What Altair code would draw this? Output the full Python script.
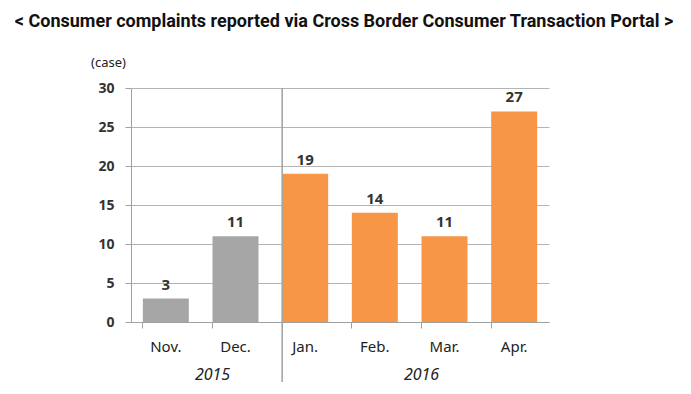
import altair as alt
import pandas as pd

months = ["Nov.", "Dec.", "Jan.", "Feb.", "Mar.", "Apr."]
counts = [3, 11, 19, 14, 11, 27]
years_of_month = ["2015", "2015", "2016", "2016", "2016", "2016"]
y_ticks = [0, 5, 10, 15, 20, 25, 30]

year_labels = ["2015", "2016"]
year_anchor = ["Dec.", "Mar."]  # band edge under which the year label is centered
separator_at = ["Jan."]

bars_df = pd.DataFrame({"month": months, "count": counts, "year": years_of_month})
years_df = pd.DataFrame({"year": year_labels, "month": year_anchor})
sep_df = pd.DataFrame({"month": separator_at})

FONT = "Noto Sans"

x_scale = alt.Scale(domain=months, paddingInner=0.34, paddingOuter=0.17)
y_scale = alt.Scale(domain=[0, 30])

x_axis = alt.Axis(
    title=None,
    labelAngle=0,
    labelFontSize=15,
    labelColor="#222222",
    labelFont=FONT,
    labelPadding=11,
    bandPosition=0,
    tickSize=6,
    tickColor="#A0A0A0",
    domainColor="#A0A0A0",
    grid=False,
)

y_axis = alt.Axis(
    values=y_ticks,
    tickCount=7,
    labelOverlap=False,
    title="(case)",
    titleAngle=0,
    titleX=-23,
    titleY=-26,
    titleAlign="center",
    titleBaseline="middle",
    titleFontSize=13,
    titleFontWeight="normal",
    titleColor="#222222",
    titleFont=FONT,
    labelFontSize=14,
    labelFontWeight="bold",
    labelColor="#333333",
    labelFont=FONT,
    labelPadding=11,
    tickSize=6,
    tickColor="#A0A0A0",
    domainColor="#A0A0A0",
    gridColor="#B4B4B4",
    gridWidth=1,
)

bars = alt.Chart(bars_df).mark_bar().encode(
    x=alt.X("month:N", scale=x_scale, sort=months, axis=x_axis),
    y=alt.Y("count:Q", scale=y_scale, axis=y_axis),
    color=alt.Color(
        "year:N",
        scale=alt.Scale(domain=["2015", "2016"], range=["#A6A6A6", "#F79646"]),
        legend=None,
    ),
)

values = alt.Chart(bars_df).mark_text(
    baseline="bottom", dy=-6, fontSize=15, fontWeight="bold", color="#333333", font=FONT
).encode(
    x=alt.X("month:N", scale=x_scale, sort=months, axis=x_axis),
    y=alt.Y("count:Q", scale=y_scale, axis=y_axis),
    text="count:Q",
)

separator = alt.Chart(sep_df).mark_rule(color="#A0A0A0", strokeWidth=1.5).encode(
    x=alt.X("month:N", scale=x_scale, sort=months, bandPosition=0, axis=x_axis),
    y=alt.value(0),
    y2=alt.value(294),
)

year_text = alt.Chart(years_df).mark_text(
    baseline="middle", fontSize=16, fontStyle="italic", color="#222222", font=FONT
).encode(
    x=alt.X("month:N", scale=x_scale, sort=months, bandPosition=0, axis=x_axis),
    y=alt.value(287),
    text="year:N",
)

chart = (
    alt.layer(bars, values, separator, year_text)
    .properties(
        width=418,
        height=234,
        autosize=alt.AutoSizeParams(type="none"),
        padding={"left": 123, "top": 80, "right": 130, "bottom": 65},
        title=alt.TitleParams(
            "< Consumer complaints reported via Cross Border Consumer Transaction Portal >",
            fontSize=18,
            fontWeight="bold",
            font="Roboto",
            color="#111111",
            anchor="middle",
            offset=25,
            dx=4,
        ),
    )
    .configure_view(stroke=None)
)

chart.save("out.html", embed_options={"renderer": "svg", "actions": False})
